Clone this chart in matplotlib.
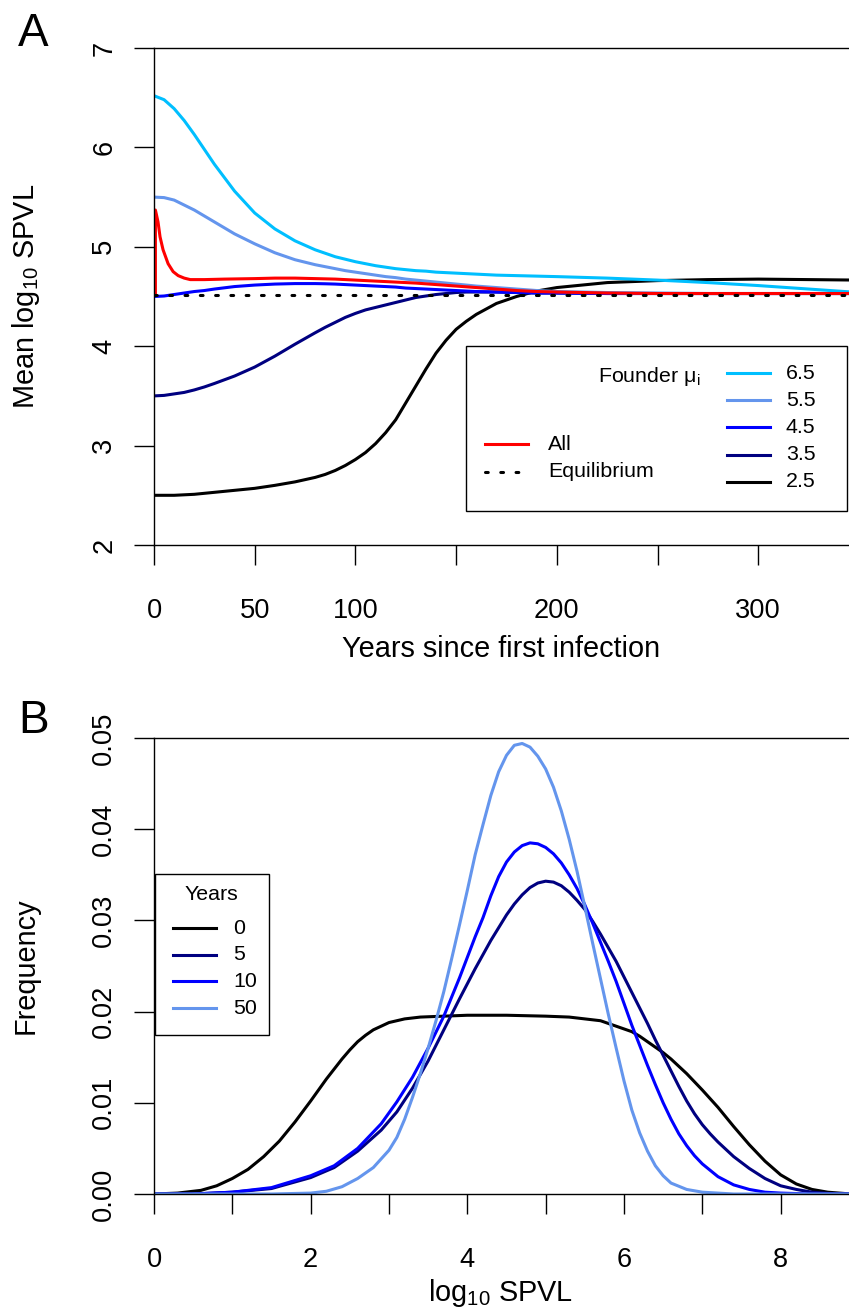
import matplotlib
matplotlib.use('Agg')
import matplotlib.pyplot as plt
from matplotlib.lines import Line2D
from matplotlib.patches import Rectangle

plt.rcParams['font.family'] = ['Liberation Sans', 'DejaVu Sans']
plt.rcParams['mathtext.fontset'] = 'custom'
plt.rcParams['mathtext.rm'] = 'Liberation Sans'
plt.rcParams['mathtext.it'] = 'Liberation Sans:italic'
plt.rcParams['mathtext.bf'] = 'Liberation Sans:bold'
plt.rcParams['mathtext.default'] = 'regular'

# ---- panel A: mean log10 SPVL over time, by founder mu_i ----
years = [0, 5, 10, 15, 20, 25, 30, 40, 50, 60, 70, 80, 85, 90, 95, 100, 105, 110, 115, 120,
         125, 130, 135, 140, 145, 150, 155, 160, 170, 180, 190, 200, 225, 250, 275,
         300, 325, 350]
founder_65 = [6.52, 6.48, 6.39, 6.27, 6.13, 5.98, 5.83, 5.56, 5.34, 5.18, 5.06, 4.97, 4.935,
              4.90, 4.875, 4.85, 4.83, 4.81, 4.795, 4.78, 4.77, 4.76, 4.755, 4.745, 4.74, 4.735,
              4.73, 4.725, 4.715, 4.71, 4.705, 4.70, 4.685, 4.665, 4.64, 4.61, 4.575, 4.54]
founder_55 = [5.50, 5.495, 5.47, 5.42, 5.37, 5.31, 5.25, 5.13, 5.03, 4.94, 4.87, 4.82, 4.80,
              4.78, 4.76, 4.745, 4.73, 4.715, 4.70, 4.69, 4.675, 4.665, 4.655, 4.645, 4.635,
              4.625, 4.615, 4.605, 4.59, 4.575, 4.56, 4.55, 4.54, 4.535, 4.53, 4.53, 4.53, 4.53]
founder_45 = [4.50, 4.505, 4.52, 4.535, 4.55, 4.56, 4.575, 4.60, 4.615, 4.625, 4.63, 4.63, 4.628,
              4.625, 4.62, 4.615, 4.61, 4.605, 4.60, 4.595, 4.585, 4.58, 4.575, 4.57, 4.565,
              4.56, 4.555, 4.55, 4.545, 4.54, 4.535, 4.535, 4.53, 4.53, 4.53, 4.53, 4.53, 4.53]
founder_35 = [3.50, 3.505, 3.52, 3.535, 3.56, 3.59, 3.625, 3.70, 3.79, 3.90, 4.02, 4.135, 4.19,
              4.24, 4.29, 4.33, 4.365, 4.39, 4.415, 4.44, 4.465, 4.49, 4.505, 4.52, 4.53, 4.54,
              4.545, 4.545, 4.545, 4.54, 4.535, 4.535, 4.53, 4.53, 4.53, 4.53, 4.53, 4.53]
founder_25 = [2.50, 2.50, 2.50, 2.505, 2.51, 2.52, 2.53, 2.55, 2.57, 2.60, 2.635, 2.68, 2.71,
              2.75, 2.80, 2.86, 2.93, 3.02, 3.13, 3.26, 3.43, 3.60, 3.77, 3.93, 4.06, 4.17,
              4.25, 4.32, 4.43, 4.50, 4.555, 4.59, 4.64, 4.66, 4.67, 4.675, 4.67, 4.665]

years_all = [0.7, 0.7, 2, 3, 4.5, 7, 9.5, 12, 15, 18, 25, 35, 50, 60, 70, 80, 90, 100,
             110, 120, 130, 140, 150, 160, 170, 180, 190, 200, 225, 250, 300, 350]
all_mean = [4.52, 5.37, 5.25, 5.10, 4.97, 4.83, 4.75, 4.71, 4.685, 4.67, 4.67, 4.675,
            4.68, 4.685, 4.685, 4.68, 4.675, 4.665, 4.655, 4.645, 4.635, 4.62, 4.605,
            4.59, 4.575, 4.56, 4.55, 4.545, 4.535, 4.53, 4.53, 4.53]
equilibrium = 4.52

founder_labels = ['6.5', '5.5', '4.5', '3.5', '2.5']
founder_colors = ['#00BFFF', '#6495ED', '#0000FF', '#000080', 'black']

# ---- panel B: distribution of log10 SPVL at several years ----
x_y0 = [0, 0.3, 0.6, 0.8, 1.0, 1.2, 1.4, 1.6, 1.8, 2.0, 2.2, 2.4, 2.5, 2.6, 2.7, 2.8, 2.9,
        3.0, 3.2, 3.4, 3.7, 4.0, 4.5, 5.0, 5.3, 5.5, 5.7, 5.8, 5.9, 6.0, 6.1, 6.2, 6.3, 6.4,
        6.5, 6.6, 6.7, 6.8, 6.9, 7.0, 7.2, 7.4, 7.6, 7.8, 8.0, 8.2, 8.4, 8.6, 8.9]
freq_y0 = [0.0, 0.0001, 0.0004, 0.0009, 0.0017, 0.0027, 0.0041, 0.0058, 0.0079, 0.0102,
           0.0126, 0.0148, 0.0158, 0.0167, 0.0174, 0.0180, 0.0184, 0.0188, 0.0192, 0.0194,
           0.0195, 0.0196, 0.0196, 0.0195, 0.0194, 0.0192, 0.0190, 0.0187, 0.0184, 0.0181,
           0.0178, 0.0173, 0.0167, 0.0161, 0.0155, 0.0148, 0.0140, 0.0132, 0.0123, 0.0114,
           0.0095, 0.0074, 0.0054, 0.0036, 0.0021, 0.0011, 0.0005, 0.0002, 0.0]

x_y5 = [0, 0.5, 1.0, 1.5, 2.0, 2.3, 2.6, 2.9, 3.1, 3.3, 3.5, 3.7, 3.9, 4.1, 4.3, 4.5, 4.6,
        4.7, 4.8, 4.9, 5.0, 5.1, 5.2, 5.3, 5.4, 5.5, 5.6, 5.7, 5.8, 5.9, 6.0, 6.1, 6.2, 6.3,
        6.4, 6.5, 6.6, 6.7, 6.8, 6.9, 7.0, 7.1, 7.2, 7.4, 7.6, 7.8, 8.0, 8.2, 8.4, 8.7, 8.9]
freq_y5 = [0.0, 0.0, 0.0002, 0.0006, 0.0018, 0.0029, 0.0047, 0.0070, 0.0090, 0.0116,
           0.0146, 0.0180, 0.0214, 0.0247, 0.0278, 0.0306, 0.0318, 0.0328, 0.0336, 0.0341,
           0.0343, 0.0342, 0.0338, 0.0331, 0.0322, 0.0312, 0.0299, 0.0285, 0.0270, 0.0255,
           0.0238, 0.0221, 0.0204, 0.0187, 0.0169, 0.0152, 0.0135, 0.0118, 0.0102, 0.0088,
           0.0076, 0.0066, 0.0057, 0.0041, 0.0028, 0.0017, 0.0009, 0.0005, 0.0002, 0.0, 0.0]

x_y10 = [0, 0.5, 1.0, 1.5, 2.0, 2.3, 2.6, 2.9, 3.1, 3.3, 3.5, 3.7, 3.9, 4.1, 4.2, 4.3, 4.4,
         4.5, 4.6, 4.7, 4.8, 4.9, 5.0, 5.1, 5.2, 5.3, 5.4, 5.5, 5.6, 5.7, 5.8, 5.9, 6.0, 6.1,
         6.2, 6.3, 6.4, 6.5, 6.6, 6.7, 6.8, 6.9, 7.0, 7.2, 7.4, 7.6, 7.8, 8.0, 8.4, 8.9]
freq_y10 = [0.0, 0.0, 0.0002, 0.0007, 0.0020, 0.0031, 0.0050, 0.0077, 0.0101, 0.0128,
            0.0160, 0.0195, 0.0237, 0.0282, 0.0303, 0.0327, 0.0348, 0.0364, 0.0375, 0.0382,
            0.0385, 0.0384, 0.0380, 0.0373, 0.0363, 0.0350, 0.0335, 0.0317, 0.0297, 0.0276,
            0.0255, 0.0233, 0.0209, 0.0185, 0.0163, 0.0141, 0.0120, 0.0100, 0.0082, 0.0066,
            0.0053, 0.0042, 0.0033, 0.0019, 0.0010, 0.0005, 0.0002, 0.0001, 0.0, 0.0]

x_y50 = [0, 1.0, 1.5, 2.0, 2.2, 2.4, 2.6, 2.8, 3.0, 3.1, 3.2, 3.3, 3.4, 3.5, 3.6, 3.7, 3.8,
         3.9, 4.0, 4.1, 4.2, 4.3, 4.4, 4.5, 4.6, 4.7, 4.8, 4.9, 5.0, 5.1, 5.2, 5.3, 5.4, 5.5,
         5.6, 5.7, 5.8, 5.9, 6.0, 6.1, 6.2, 6.3, 6.4, 6.5, 6.6, 6.8, 7.0, 7.4, 8.0, 8.9]
freq_y50 = [0.0, 0.0, 0.0, 0.0001, 0.0003, 0.0008, 0.0017, 0.0029, 0.0048, 0.0062, 0.0082,
            0.0106, 0.0132, 0.0160, 0.0190, 0.0222, 0.0258, 0.0295, 0.0333, 0.0372, 0.0405,
            0.0437, 0.0463, 0.0481, 0.0492, 0.0494, 0.0490, 0.0480, 0.0466, 0.0446, 0.0420,
            0.0389, 0.0354, 0.0315, 0.0275, 0.0236, 0.0197, 0.0160, 0.0124, 0.0092, 0.0067,
            0.0047, 0.0031, 0.0020, 0.0012, 0.0005, 0.0002, 0.0, 0.0, 0.0]

year_labels = ['0', '5', '10', '50']
year_colors = ['black', '#000080', '#0000FF', '#6495ED']

W, H = 849, 1311
LW = 2.2
fig = plt.figure(figsize=(W / 100, H / 100), dpi=100)


def pbox(left, top, right, bottom):
    # pixel box -> figure fraction [l, b, w, h]
    return [left / W, 1 - bottom / H, (right - left) / W, (bottom - top) / H]


def fpt(x, y):
    return x / W, 1 - y / H


def style_axes(ax):
    for s in ax.spines.values():
        s.set_linewidth(1.0)
    ax.tick_params(axis='both', direction='out', length=14.4, width=1.0,
                   labelsize=19.6, color='black')
    ax.tick_params(axis='x', pad=23.5)
    ax.tick_params(axis='y', pad=12, labelrotation=90)


# panel A
axA = fig.add_axes(pbox(154, 48, 859, 545))
series_A = [founder_25, founder_35, founder_45, founder_55, founder_65]
for vals, col in zip(series_A, founder_colors[::-1]):
    axA.plot(years, vals, color=col, lw=LW, solid_capstyle='round')
axA.plot(years_all, all_mean, color='red', lw=LW)
axA.axhline(equilibrium, color='black', lw=LW, dashes=(0.9, 4.1), dash_capstyle='round')
axA.set_xlim(0, 350)
axA.set_ylim(2, 7)
axA.set_xticks(range(0, 351, 50))
axA.set_xticklabels(['0', '50', '100', '', '200', '', '300', ''])
axA.set_yticks(range(2, 8))
style_axes(axA)
plt.setp(axA.get_yticklabels(), va='center')

# panel B
axB = fig.add_axes(pbox(154, 738, 859, 1194))
for xs, ys, col in zip([x_y0, x_y5, x_y10, x_y50], [freq_y0, freq_y5, freq_y10, freq_y50],
                       year_colors):
    axB.plot(xs, ys, color=col, lw=LW, solid_joinstyle='round')
axB.set_xlim(0, 9)
axB.set_ylim(0, 0.05)
axB.set_xticks(range(0, 10))
axB.set_xticklabels(['0', '', '2', '', '4', '', '6', '', '8', ''])
axB.set_yticks([0, 0.01, 0.02, 0.03, 0.04, 0.05])
axB.set_yticklabels(['0.00', '0.01', '0.02', '0.03', '0.04', '0.05'])
style_axes(axB)
plt.setp(axB.get_yticklabels(), va='center')

# axis titles and panel letters
lab = dict(fontsize=20.8, rotation_mode='anchor')
fig.text(*fpt(501, 657), 'Years since first infection', ha='center', va='baseline', **lab)
fig.text(*fpt(501, 1301), 'log$_{10}$ SPVL', ha='center', va='baseline', **lab)
fig.text(*fpt(34, 296), 'Mean log$_{10}$ SPVL', ha='center', va='baseline', rotation=90, **lab)
fig.text(*fpt(34, 966), 'Frequency', ha='center', va='baseline', rotation=90, **lab)
fig.text(*fpt(18, 46), 'A', fontsize=33, va='baseline', ha='left')
fig.text(*fpt(18, 733), 'B', fontsize=33, va='baseline', ha='left')

# legend A (drawn by hand, R style)
LEG = 15.4
fig.add_artist(Rectangle(fpt(466, 511), (847 - 466) / W, (511 - 346) / H, fill=False,
                         lw=1.0, edgecolor='black', transform=fig.transFigure))
fig.text(*fpt(700, 376), 'Founder μ$_{i}$', fontsize=LEG, ha='right', va='center')
for i, (lbl, col) in enumerate(zip(founder_labels, founder_colors)):
    yy = 373 + i * 27.2
    fig.add_artist(Line2D([727 / W, 770 / W], [1 - yy / H] * 2, color=col, lw=LW))
    fig.text(*fpt(786, yy), lbl, fontsize=LEG, ha='left', va='center')
fig.add_artist(Line2D([485 / W, 528 / W], [1 - 444 / H] * 2, color='red', lw=LW))
fig.text(*fpt(548, 444), 'All', fontsize=LEG, ha='left', va='center')
fig.add_artist(Line2D([485 / W, 528 / W], [1 - 472 / H] * 2, color='black', lw=LW,
                      dashes=(0.9, 4.1), dash_capstyle='round'))
fig.text(*fpt(548, 472), 'Equilibrium', fontsize=LEG, ha='left', va='center')

# legend B
fig.add_artist(Rectangle(fpt(155, 1035), (269 - 155) / W, (1035 - 874) / H, fill=False,
                         lw=1.0, edgecolor='black', transform=fig.transFigure))
fig.text(*fpt(211, 895), 'Years', fontsize=LEG, ha='center', va='center')
for i, (lbl, col) in enumerate(zip(year_labels, year_colors)):
    yy = 928 + i * 26.7
    fig.add_artist(Line2D([173 / W, 216 / W], [1 - yy / H] * 2, color=col, lw=LW))
    fig.text(*fpt(233, yy), lbl, fontsize=LEG, ha='left', va='center')

fig.savefig('out.png', dpi=100)
